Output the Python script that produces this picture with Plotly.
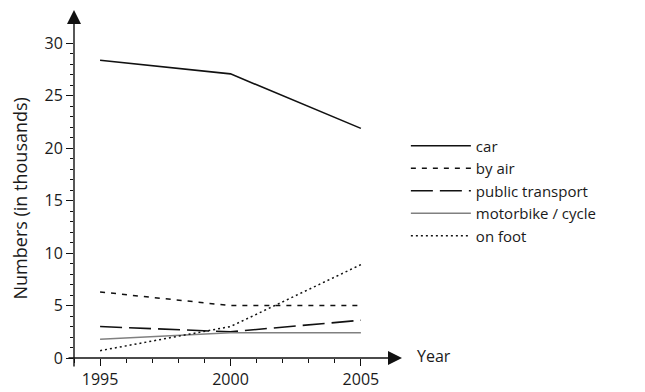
import plotly.graph_objects as go

years = [1995, 2000, 2005]
car = [28.4, 27.1, 21.9]
by_air = [6.3, 5.0, 5.0]
public_transport = [3.0, 2.5, 3.6]
motorbike_cycle = [1.8, 2.4, 2.4]
on_foot = [0.7, 3.0, 8.9]

series_names = ["car", "by air", "public transport", "motorbike / cycle", "on foot"]
series_values = [car, by_air, public_transport, motorbike_cycle, on_foot]
styles = [
    dict(color="#111111", width=1.6, dash="solid"),
    dict(color="#111111", width=1.5, dash="5px,6px"),
    dict(color="#111111", width=1.6, dash="22px,7px"),
    dict(color="#808080", width=1.5, dash="solid"),
    dict(color="#111111", width=1.5, dash="2px,3px"),
]

FONT = "Open Sans"
# page body has an 8px margin: figure is sized/offset so the plot area lands at x 74..400, y 12..358
PW, PH = 326, 346
fig = go.Figure()
for name, vals, st in zip(series_names, series_values, styles):
    fig.add_trace(go.Scatter(x=years, y=vals, mode="lines", name=name, line=st))

fig.update_layout(
    width=637, height=384,
    margin=dict(l=66, r=245, t=4, b=34, autoexpand=False),
    paper_bgcolor="white", plot_bgcolor="white",
    font=dict(family=FONT, size=15, color="#1a1a1a"),
    legend=dict(x=1.018, y=0.6605, xanchor="left", yanchor="top",
                bgcolor="rgba(0,0,0,0)", font=dict(size=15, family=FONT),
                itemwidth=60),
    showlegend=True,
)
fig.update_xaxes(
    range=[1994, 2006.5], showgrid=False, zeroline=False, showline=False, automargin=False,
    tickmode="array", tickvals=years, ticktext=[str(y) for y in years],
    ticks="outside", ticklen=7, tickwidth=1.3, tickcolor="#111",
    minor=dict(tickmode="array", tickvals=list(range(1994, 2006)), ticks="outside",
               ticklen=4, tickcolor="#111", tickwidth=1),
    tickfont=dict(size=16, family=FONT),
)
fig.update_yaxes(
    range=[0, 33], showgrid=False, zeroline=False, showline=False, automargin=False,
    tickvals=[0, 5, 10, 15, 20, 25, 30],
    ticks="outside", ticklen=7, tickwidth=1.3, tickcolor="#111",
    minor=dict(tickmode="array", tickvals=list(range(0, 31)), ticks="outside",
               ticklen=3, tickcolor="#111", tickwidth=1),
    tickfont=dict(size=16, family=FONT),
)
fig.add_annotation(x=-55 / PW, y=(346 - 186.5) / PH, xref="paper", yref="paper",
                   text="Numbers (in thousands)", xanchor="center", yanchor="middle",
                   textangle=-90, showarrow=False, font=dict(size=18, family=FONT))
# axis lines with arrow heads
fig.add_annotation(x=0, y=1 + 2 / PH, xref="paper", yref="paper", ax=0, ay=PH + 12,
                   showarrow=True, arrowhead=2, arrowsize=2, arrowwidth=1.4, arrowcolor="#111",
                   text="", standoff=0, startstandoff=0)
fig.add_annotation(x=1 + 2 / PW, y=0, xref="paper", yref="paper", ax=-(PW + 9), ay=0,
                   showarrow=True, arrowhead=2, arrowsize=2, arrowwidth=1.4, arrowcolor="#111",
                   text="", standoff=0, startstandoff=0)
fig.add_annotation(x=1 + 15 / PW, y=2 / PH, xref="paper", yref="paper", text="Year", showarrow=False,
                   xanchor="left", yanchor="middle", font=dict(size=16, family=FONT))

fig.write_html("out.html")
